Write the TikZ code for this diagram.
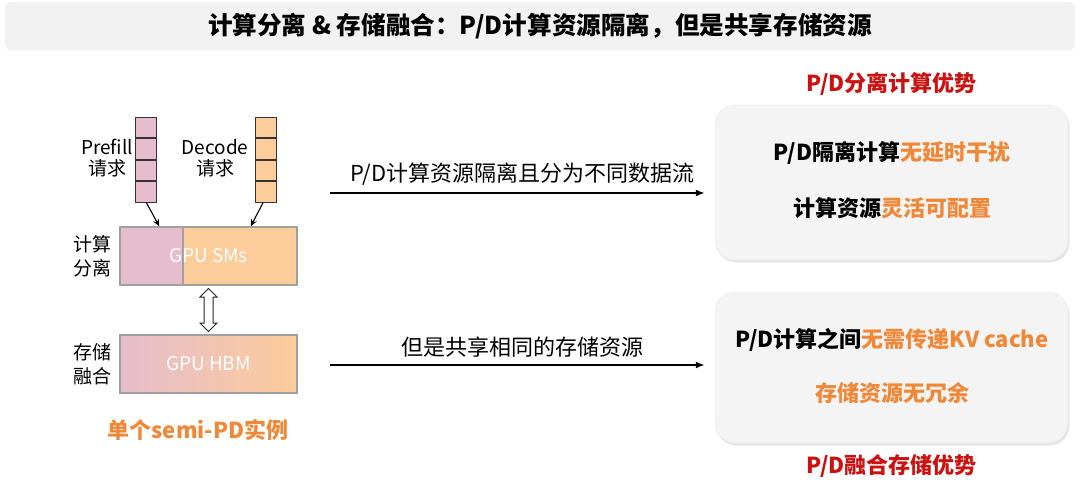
\documentclass[tikz,border=0pt]{standalone}
\usepackage{fontspec}
\setmainfont{Noto Sans CJK SC}
\usetikzlibrary{shapes, arrows.meta, calc, positioning, shadows}
\definecolor{pinkfill}{RGB}{229,189,204}
\definecolor{orangefill}{RGB}{253,204,155}
\definecolor{gpuedge}{RGB}{160,160,160}
\definecolor{hiorange}{RGB}{240,136,56}
\definecolor{hired}{RGB}{204,17,17}
\definecolor{panelgray}{RGB}{244,244,244}
\definecolor{titlegray}{RGB}{242,242,242}
\tikzset{
    titlebar/.style = {fill=titlegray, rounded corners=6pt, minimum width=1070pt, minimum height=48pt,
                       font=\bfseries\fontsize{24.6}{24.6}\selectfont},
    cell/.style = {draw=black!80, line width=0.8pt, minimum width=21pt, minimum height=20.75pt, inner sep=0pt}, % one slot of a request queue
    pcell/.style = {cell, fill=pinkfill},
    dcell/.style = {cell, fill=orangefill},
    reqlabel/.style = {align=center, font=\fontsize{19}{21}\selectfont},
    sidelabel/.style = {align=center, font=\fontsize{19}{24}\selectfont},
    gpu/.style = {draw=gpuedge, line width=1.5pt, minimum width=177pt, minimum height=58pt, inner sep=0pt,
                  text=white, font=\fontsize{19}{19}\selectfont},
    link/.style = {double arrow, draw=black!85, fill=white, line width=1pt, inner xsep=0pt, inner ysep=4pt,
                   minimum height=43pt, double arrow head extend=4pt}, % hollow two-way arrow
    feed/.style = {-{Stealth[length=7pt,width=6pt]}, line width=1.1pt},
    flow/.style = {-{Latex[length=9pt,width=7pt]}, line width=2pt, shorten >=10pt},
    flowlabel/.style = {above=3pt, font=\fontsize{22}{22}\selectfont},
    panel/.style = {rounded corners=20pt, fill=panelgray, draw=black!8, minimum width=353pt,
                    drop shadow={opacity=0.2, shadow xshift=1.5pt, shadow yshift=-2.5pt}},
    gain/.style = {font=\bfseries\fontsize{22}{22}\selectfont},
    headline/.style = {font=\bfseries\fontsize{22}{22}\selectfont, text=hired}
}
\begin{document}
\begin{tikzpicture}[x=1pt, y=-1pt]
  \useasboundingbox[fill=white] (0,0) rectangle (1080,485);
  \node [titlebar] (title) at (540,26) {计算分离 \& 存储融合：P/D计算资源隔离，但是共享存储资源};

  % request queues
  \node [pcell] (p1) at (145.5,127.4) {};
  \node [pcell, below=0pt of p1] (p2) {};
  \node [pcell, below=0pt of p2] (p3) {};
  \node [pcell, below=0pt of p3] (p4) {};
  \node [dcell] (d1) at (266,127.4) {};
  \node [dcell, below=0pt of d1] (d2) {};
  \node [dcell, below=0pt of d2] (d3) {};
  \node [dcell, below=0pt of d3] (d4) {};
  \node [reqlabel] (plab) at (107,158) {Prefill\\请求};
  \node [reqlabel] (dlab) at (215,158) {Decode\\请求};

  % semi-PD instance
  \node [gpu, fill=orangefill,
         path picture={\fill [pinkfill] (path picture bounding box.north west) rectangle ([xshift=63pt]path picture bounding box.south west);
                       \draw [gpuedge, line width=1.5pt] ([xshift=63pt]path picture bounding box.north west) -- ([xshift=63pt]path picture bounding box.south west);}]
        (sms) at (208.5,256) {GPU SMs};
  \node [gpu, left color=pinkfill, right color=orangefill] (hbm) at (208.5,364) {GPU HBM};
  \node [link, rotate=90] (bus) at ($(sms.south)!0.5!(hbm.north)$) {};
  \node [sidelabel, left=4pt of sms] (cmp) {计算\\分离};
  \node [sidelabel, left=4pt of hbm] (mem) {存储\\融合};
  \node [font=\bfseries\fontsize{22}{22}\selectfont, text=hiorange] (inst) at (198,430) {单个semi-PD实例};
  \draw [feed] ([xshift=1pt]p4.south) -- ([xshift=40pt]sms.north west);
  \draw [feed] ([xshift=-3pt]d4.south) -- ([xshift=-47pt]sms.north east);

  % advantages
  \node [panel, minimum height=155pt] (sep) at (891.5,182.5) {};
  \node [gain] (sep1) at (892,153) {P/D隔离计算\textcolor{hiorange}{无延时干扰}};
  \node [gain] (sep2) at (892,208) {计算资源\textcolor{hiorange}{灵活可配置}};
  \node [headline, above=6pt of sep] (septitle) {P/D分离计算优势};
  \node [panel, minimum height=151pt] (mrg) at (891.5,367.5) {};
  \node [gain] (mrg1) at (892,340) {P/D计算之间\textcolor{hiorange}{无需传递KV cache}};
  \node [gain, text=hiorange] (mrg2) at (892,393) {存储资源无冗余};
  \node [headline, below=8pt of mrg] (mrgtitle) {P/D融合存储优势};

  \coordinate (f1) at (330,193);
  \coordinate (f2) at (330,365);
  \draw [flow] (f1) -- (f1 -| sep.west) node [midway, flowlabel] {P/D计算资源隔离且分为不同数据流};
  \draw [flow] (f2) -- (f2 -| mrg.west) node [midway, flowlabel] {但是共享相同的存储资源};
\end{tikzpicture}
\end{document}
